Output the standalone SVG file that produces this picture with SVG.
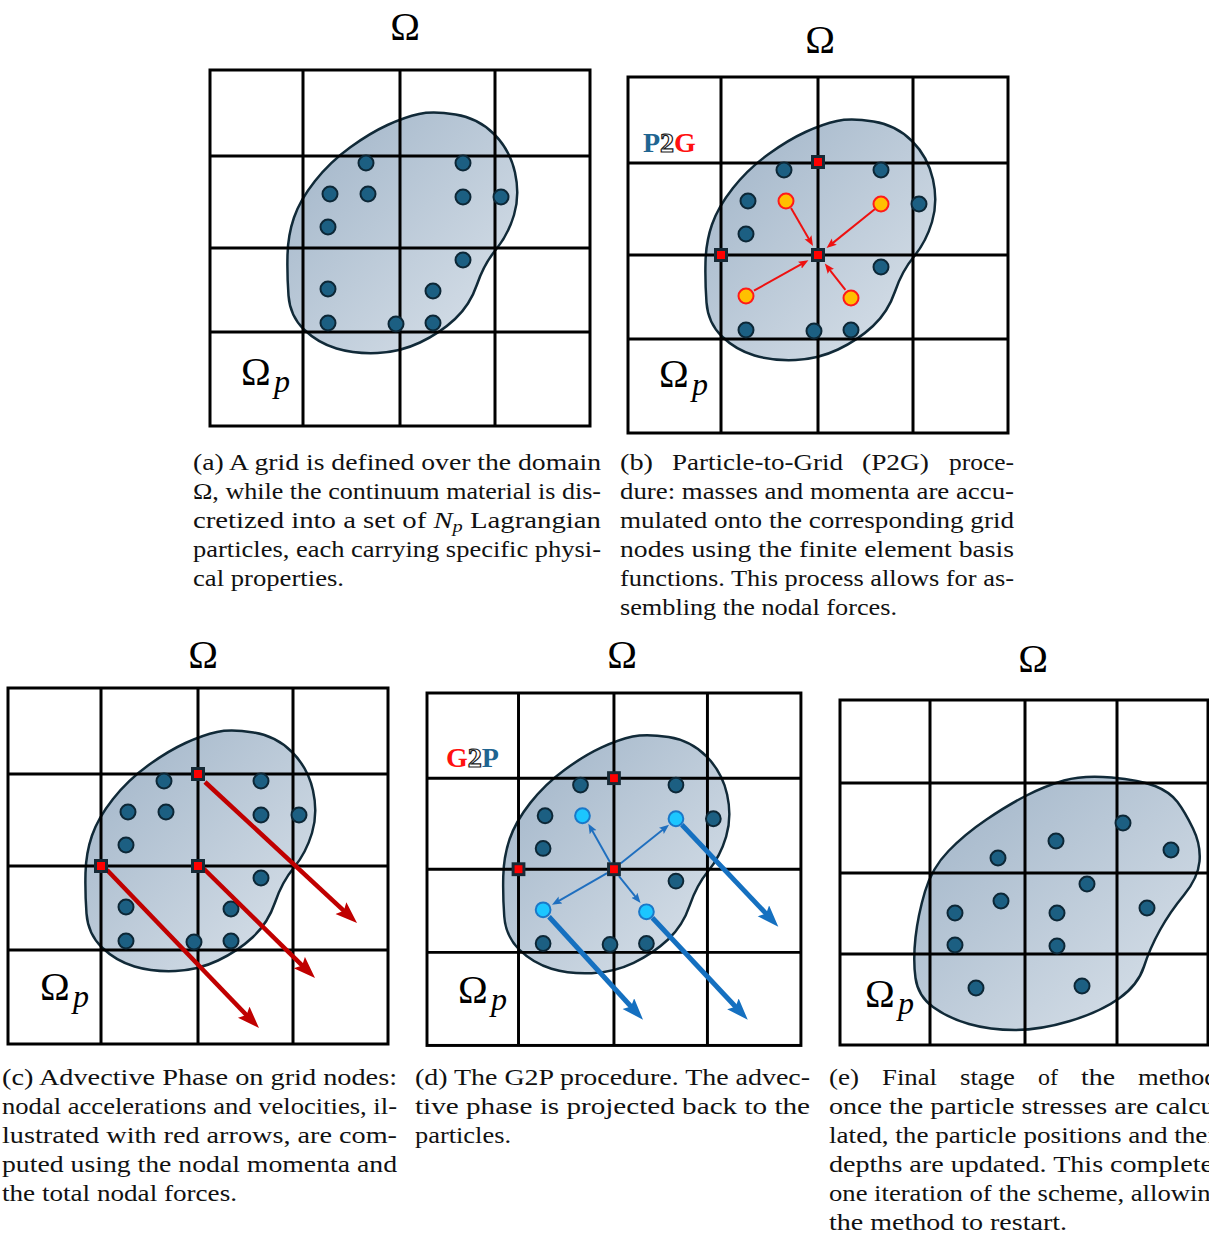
<svg xmlns="http://www.w3.org/2000/svg" xmlns:xlink="http://www.w3.org/1999/xlink" width="1209" height="1233" viewBox="0 0 1209 1233">
<style>
.grid{fill:none;stroke:#000;stroke-width:3}
.blob{fill:url(#gb);stroke:#112a38;stroke-width:2.5}
.pt{fill:#1c5f82;stroke:#0d2736;stroke-width:2}
.yp{fill:#ffc000;stroke:#ff1a1a;stroke-width:2}
.cp{fill:#1cc6ff;stroke:#1b78c8;stroke-width:2}
.om{font-size:40px;fill:#000}
.sub{font-size:32px;font-style:italic;fill:#000}
.cap{font-size:24px;fill:#111}
.lbl{font-size:28px;font-weight:bold}
.ar-r{stroke:#ee1111;stroke-width:2;fill:none}
.ar-b{stroke:#1f6fbf;stroke-width:2;fill:none}
.ar-R{stroke:#c00000;stroke-width:4.5;fill:none}
.ar-B{stroke:#1570c0;stroke-width:5;fill:none}
</style>
<defs>
<linearGradient id="gb" x1="0" y1="0" x2="1" y2="1">
<stop offset="0" stop-color="#9fb3c7"/>
<stop offset="1" stop-color="#dbe3eb"/>
</linearGradient>
<marker id="mr" markerUnits="userSpaceOnUse" markerWidth="12" markerHeight="10" refX="3" refY="4" orient="auto"><path d="M0,0 L10,4 L0,8 L2,4 z" fill="#ee1111"/></marker>
<marker id="mb" markerUnits="userSpaceOnUse" markerWidth="12" markerHeight="10" refX="3" refY="4" orient="auto"><path d="M0,0 L10,4 L0,8 L2,4 z" fill="#1f6fbf"/></marker>
<marker id="mR" markerUnits="userSpaceOnUse" markerWidth="24" markerHeight="18" refX="6" refY="8" orient="auto"><path d="M0,0 L22,8 L0,16 L4,8 z" fill="#c00000"/></marker>
<marker id="mB" markerUnits="userSpaceOnUse" markerWidth="24" markerHeight="18" refX="6" refY="8" orient="auto"><path d="M0,0 L22,8 L0,16 L4,8 z" fill="#1570c0"/></marker>
<path id="blob" class="blob" d="M245.5,44.5 Q268,48 284,64 Q300,80 305,102.5 Q310,125 304,145 Q298,165 286,179.5 Q274,194 267,214.5 Q260,235 245,249 Q230,263 210,272.5 Q190,282 167.5,283 Q145,284 126.5,278.5 Q108,273 94,259.5 Q80,246 78.5,225.5 Q77,205 77.5,185 Q78,165 84,147.5 Q90,130 105,111 Q120,92 140,77.5 Q160,63 177.5,55 Q195,47 209,44 Q223,41 245.5,44.5 Z"/>
<g id="grid" class="grid"><rect x="0" y="0" width="380" height="356"/><path d="M93,0V356M190,0V356M285,0V356M0,86H380M0,178H380M0,262H380"/></g>
<g id="pts-base">
<circle class="pt" cx="156" cy="93" r="7.5"/><circle class="pt" cx="253" cy="93" r="7.5"/>
<circle class="pt" cx="120" cy="124" r="7.5"/><circle class="pt" cx="291" cy="127" r="7.5"/>
<circle class="pt" cx="118" cy="157" r="7.5"/><circle class="pt" cx="253" cy="190" r="7.5"/>
<circle class="pt" cx="118" cy="253" r="7.5"/><circle class="pt" cx="186" cy="254" r="7.5"/><circle class="pt" cx="223" cy="253" r="7.5"/>
</g>
<g id="pts-extra">
<circle class="pt" cx="158" cy="124" r="7.5"/><circle class="pt" cx="253" cy="127" r="7.5"/>
<circle class="pt" cx="118" cy="219" r="7.5"/><circle class="pt" cx="223" cy="221" r="7.5"/>
</g>
<g id="node"><rect x="-7" y="-7" width="14" height="14" fill="#172a36"/><rect x="-4" y="-4" width="8" height="8" fill="#ff0000"/></g>
</defs>

<g font-family="Liberation Serif, serif">

<!-- Panel a -->
<g id="panel-a">
<text class="om" x="405" y="40" text-anchor="middle">Ω</text>
<g transform="translate(210,70)">
<use xlink:href="#blob"/><use xlink:href="#grid"/><use xlink:href="#pts-base"/><use xlink:href="#pts-extra"/>
</g>
<text class="om" x="241" y="385">Ω</text><text class="sub" x="274" y="392">p</text>
</g>

<!-- Panel b -->
<g id="panel-b">
<text class="om" x="820" y="53" text-anchor="middle">Ω</text>
<g transform="translate(628,77)">
<use xlink:href="#blob"/><use xlink:href="#grid"/><use xlink:href="#pts-base"/>
<g id="conn-b">
<line class="ar-r" x1="163" y1="131" x2="181.5" y2="162.9" marker-end="url(#mr)"/>
<line class="ar-r" x1="247" y1="132" x2="204" y2="166.6" marker-end="url(#mr)"/>
<line class="ar-r" x1="126" y1="213.6" x2="174.3" y2="186.7" marker-end="url(#mr)"/>
<line class="ar-r" x1="217.4" y1="212.9" x2="201.1" y2="192.1" marker-end="url(#mr)"/>
</g>
<circle class="yp" cx="158" cy="124" r="7.5"/><circle class="yp" cx="253" cy="127" r="7.5"/>
<circle class="yp" cx="118" cy="219" r="7.5"/><circle class="yp" cx="223" cy="221" r="7.5"/>
<use xlink:href="#node" x="190" y="85"/><use xlink:href="#node" x="93" y="178"/><use xlink:href="#node" x="190" y="178"/>
<text class="lbl" x="15" y="75"><tspan fill="#1f6591">P</tspan><tspan fill="#fff" stroke="#1a1a1a" stroke-width="1.2">2</tspan><tspan fill="#ff1010">G</tspan></text>
</g>
<text class="om" x="659" y="387">Ω</text><text class="sub" x="692" y="395">p</text>
</g>

<!-- Panel c -->
<g id="panel-c">
<text class="om" x="203" y="668" text-anchor="middle">Ω</text>
<g transform="translate(8,688)">
<use xlink:href="#blob"/><use xlink:href="#grid"/><use xlink:href="#pts-base"/><use xlink:href="#pts-extra"/>
<g id="conn-c">
<line class="ar-R" x1="197" y1="94" x2="337.3" y2="224.1" marker-end="url(#mR)"/>
<line class="ar-R" x1="99" y1="182" x2="239.9" y2="328.5" marker-end="url(#mR)"/>
<line class="ar-R" x1="195" y1="180" x2="295.6" y2="278.8" marker-end="url(#mR)"/>
</g>
<use xlink:href="#node" x="190" y="86"/><use xlink:href="#node" x="93" y="178"/><use xlink:href="#node" x="190" y="178"/>
</g>
<text class="om" x="40" y="1000">Ω</text><text class="sub" x="73" y="1007">p</text>
</g>

<!-- Panel d -->
<g id="panel-d">
<text class="om" x="622" y="668" text-anchor="middle">Ω</text>
<g transform="translate(427,693) scale(0.984,0.99)">
<use xlink:href="#blob"/><use xlink:href="#grid"/><use xlink:href="#pts-base"/>
<g id="conn-d">
<line class="ar-b" x1="186" y1="171" x2="167.4" y2="138.1" marker-end="url(#mb)"/>
<line class="ar-b" x1="197" y1="172" x2="240.5" y2="137.4" marker-end="url(#mb)"/>
<line class="ar-b" x1="183" y1="182" x2="133.1" y2="210.5" marker-end="url(#mb)"/>
<line class="ar-b" x1="195" y1="185" x2="212.6" y2="206.6" marker-end="url(#mb)"/>
<line class="ar-B" x1="259" y1="133" x2="346" y2="224.4" marker-end="url(#mB)"/>
<line class="ar-B" x1="124" y1="226" x2="208.7" y2="318.2" marker-end="url(#mB)"/>
<line class="ar-B" x1="229" y1="227" x2="315" y2="318.4" marker-end="url(#mB)"/>
</g>
<circle class="cp" cx="158" cy="124" r="7.5"/><circle class="cp" cx="253" cy="127" r="7.5"/>
<circle class="cp" cx="118" cy="219" r="7.5"/><circle class="cp" cx="223" cy="221" r="7.5"/>
<use xlink:href="#node" x="190" y="86"/><use xlink:href="#node" x="93" y="178"/><use xlink:href="#node" x="190" y="178"/>
</g>
<text class="lbl" x="446" y="767"><tspan fill="#ff1010">G</tspan><tspan fill="#fff" stroke="#1a1a1a" stroke-width="1.2">2</tspan><tspan fill="#1f6591">P</tspan></text>
<text class="om" x="458" y="1003">Ω</text><text class="sub" x="491" y="1010">p</text>
</g>

<!-- Panel e -->
<g id="panel-e">
<text class="om" x="1033" y="672" text-anchor="middle">Ω</text>
<path class="blob" d="M1111.5,777.5 Q1140,780 1155,786 Q1170,792 1177.5,802 Q1185,812 1193,828.5 Q1201,845 1199.5,861.5 Q1198,878 1184,895 Q1170,912 1160,930 Q1150,948 1144,966.5 Q1138,985 1119,998.5 Q1100,1012 1070,1021 Q1040,1030 1015,1030 Q990,1030 969,1024 Q948,1018 933,1007 Q918,996 915.5,978 Q913,960 915.5,937.5 Q918,915 925,891.5 Q932,868 948.5,851 Q965,834 986.5,819.5 Q1008,805 1026.5,795.5 Q1045,786 1064,780.5 Q1083,775 1111.5,777.5 Z"/>
<g class="grid"><rect x="840" y="700" width="368" height="345"/><path d="M930,700V1045M1025,700V1045M1117,700V1045M840,783H1208M840,873H1208M840,954H1208"/></g>
<circle class="pt" cx="1123" cy="823" r="7.5"/><circle class="pt" cx="1056" cy="841" r="7.5" stroke="#000" stroke-width="2.5"/>
<circle class="pt" cx="1171" cy="850" r="7.5"/><circle class="pt" cx="998" cy="858" r="7.5"/>
<circle class="pt" cx="1087" cy="884" r="7.5"/><circle class="pt" cx="1001" cy="901" r="7.5"/>
<circle class="pt" cx="955" cy="913" r="7.5"/><circle class="pt" cx="1057" cy="913" r="7.5"/>
<circle class="pt" cx="1147" cy="908" r="7.5"/><circle class="pt" cx="955" cy="945" r="7.5"/>
<circle class="pt" cx="1057" cy="946" r="7.5"/><circle class="pt" cx="976" cy="988" r="7.5"/>
<circle class="pt" cx="1082" cy="986" r="7.5"/>
<text class="om" x="865" y="1007">Ω</text><text class="sub" x="898" y="1014">p</text>
</g>

<!-- Captions -->
<g id="caption-a" class="cap">
<text x="193" y="470" textLength="408" lengthAdjust="spacingAndGlyphs">(a) A grid is defined over the domain</text>
<text x="193" y="499" textLength="408" lengthAdjust="spacingAndGlyphs">Ω, while the continuum material is dis-</text>
<text x="193" y="528" textLength="408" lengthAdjust="spacingAndGlyphs">cretized into a set of <tspan font-style="italic">N</tspan><tspan font-style="italic" font-size="17" dy="4">p</tspan><tspan dy="-4"> Lagrangian</tspan></text>
<text x="193" y="557" textLength="408" lengthAdjust="spacingAndGlyphs">particles, each carrying specific physi-</text>
<text x="193" y="586" textLength="151" lengthAdjust="spacingAndGlyphs">cal properties.</text>
</g>
<g id="caption-b" class="cap">
<text x="620" y="470" textLength="33" lengthAdjust="spacingAndGlyphs">(b)</text>
<text x="672" y="470" textLength="171" lengthAdjust="spacingAndGlyphs">Particle-to-Grid</text>
<text x="862" y="470" textLength="67" lengthAdjust="spacingAndGlyphs">(P2G)</text>
<text x="949" y="470" textLength="65" lengthAdjust="spacingAndGlyphs">proce-</text>
<text x="620" y="499" textLength="394" lengthAdjust="spacingAndGlyphs">dure: masses and momenta are accu-</text>
<text x="620" y="528" textLength="394" lengthAdjust="spacingAndGlyphs">mulated onto the corresponding grid</text>
<text x="620" y="557" textLength="394" lengthAdjust="spacingAndGlyphs">nodes using the finite element basis</text>
<text x="620" y="586" textLength="394" lengthAdjust="spacingAndGlyphs">functions. This process allows for as-</text>
<text x="620" y="615" textLength="277" lengthAdjust="spacingAndGlyphs">sembling the nodal forces.</text>
</g>
<g id="caption-c" class="cap">
<text x="2" y="1085" textLength="395" lengthAdjust="spacingAndGlyphs">(c) Advective Phase on grid nodes:</text>
<text x="2" y="1114" textLength="395" lengthAdjust="spacingAndGlyphs">nodal accelerations and velocities, il-</text>
<text x="2" y="1143" textLength="395" lengthAdjust="spacingAndGlyphs">lustrated with red arrows, are com-</text>
<text x="2" y="1172" textLength="395" lengthAdjust="spacingAndGlyphs">puted using the nodal momenta and</text>
<text x="2" y="1201" textLength="235" lengthAdjust="spacingAndGlyphs">the total nodal forces.</text>
</g>
<g id="caption-d" class="cap">
<text x="415" y="1085" textLength="395" lengthAdjust="spacingAndGlyphs">(d) The G2P procedure. The advec-</text>
<text x="415" y="1114" textLength="395" lengthAdjust="spacingAndGlyphs">tive phase is projected back to the</text>
<text x="415" y="1143" textLength="96" lengthAdjust="spacingAndGlyphs">particles.</text>
</g>
<g id="caption-e" class="cap">
<text x="829" y="1085" textLength="30" lengthAdjust="spacingAndGlyphs">(e)</text>
<text x="882" y="1085" textLength="55" lengthAdjust="spacingAndGlyphs">Final</text>
<text x="960" y="1085" textLength="55" lengthAdjust="spacingAndGlyphs">stage</text>
<text x="1038" y="1085" textLength="20" lengthAdjust="spacingAndGlyphs">of</text>
<text x="1081" y="1085" textLength="34" lengthAdjust="spacingAndGlyphs">the</text>
<text x="1138" y="1085" textLength="87" lengthAdjust="spacingAndGlyphs">method:</text>
<text x="829" y="1114" textLength="395" lengthAdjust="spacingAndGlyphs">once the particle stresses are calcu-</text>
<text x="829" y="1143" textLength="395" lengthAdjust="spacingAndGlyphs">lated, the particle positions and their</text>
<text x="829" y="1172" textLength="395" lengthAdjust="spacingAndGlyphs">depths are updated. This completes</text>
<text x="829" y="1201" textLength="395" lengthAdjust="spacingAndGlyphs">one iteration of the scheme, allowing</text>
<text x="829" y="1230" textLength="238" lengthAdjust="spacingAndGlyphs">the method to restart.</text>
</g>

</g>
</svg>
